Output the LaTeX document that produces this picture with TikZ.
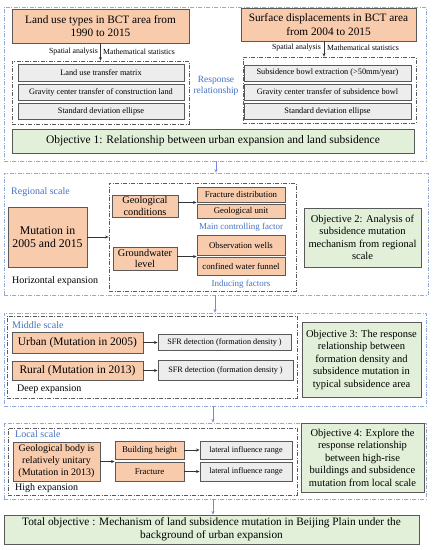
\documentclass[tikz,border=0pt]{standalone}
\usepackage{fontspec}
\setmainfont{Liberation Serif}
\usetikzlibrary{arrows.meta}
\definecolor{salmon}{HTML}{F8CBAD}
\definecolor{grayfill}{HTML}{EDEDED}
\definecolor{greenfill}{HTML}{E2F0D9}
\definecolor{frameblue}{HTML}{8FAADC}
\definecolor{textblue}{HTML}{4472C4}
\definecolor{edge}{HTML}{595959}
\newcommand\fs[2]{\fontsize{#1}{#2}\selectfont}
\newcommand\bx[7]{%
  \pgfmathsetmacro\myw{#5-#3}\pgfmathsetmacro\myh{#6-#4}%
  \node[#1, minimum width=\myw pt, minimum height=\myh pt] (#2) at ({(#3+#5)/2},{(#4+#6)/2}) {#7};}
\tikzset{
  base/.style={rectangle, inner sep=0pt, align=center},
  salmonbox/.style={base, draw=edge, line width=0.9pt, fill=salmon},
  graybox/.style={base, draw=edge, line width=0.9pt, fill=grayfill},
  greenbox/.style={base, draw=edge, line width=0.9pt, fill=greenfill},
  outerframe/.style={base, draw=frameblue, line width=0.8pt, dash pattern=on 4pt off 1.5pt on 1pt off 1.5pt},
  innerframe/.style={base, draw=edge, line width=0.8pt, dash pattern=on 4pt off 1.5pt on 1pt off 1.5pt},
  bluelabel/.style={inner sep=0pt, text=textblue, align=center},
  plainlabel/.style={inner sep=0pt, align=center},
  arr/.style={-{Stealth[length=3.5pt,width=3pt]}, line width=0.7pt, draw=black!80},
  bluearr/.style={-{Stealth[length=3.5pt,width=3pt]}, line width=0.8pt, draw=frameblue!80!blue},
}
\begin{document}
\begin{tikzpicture}[x=1pt,y=-1pt]
\useasboundingbox (0,0) rectangle (434,550);
% ---------- frames ----------
\bx{outerframe}{out1}{4}{7}{426}{161}{}
\bx{outerframe}{out2}{4}{173}{428}{295}{}
\bx{outerframe}{out3}{4}{313}{426}{406}{}
\bx{outerframe}{out4}{4}{423}{426}{499}{}
\bx{innerframe}{in1l}{12}{61}{189}{124}{}
\bx{innerframe}{in1r}{243}{57}{416}{123}{}
\bx{innerframe}{in2}{109}{183}{296}{291}{}
\bx{innerframe}{in3}{7}{316}{297}{398}{}
\bx{innerframe}{in4}{8}{428}{297}{495}{}
% ---------- section 1 ----------
\bx{salmonbox, font=\fs{11.3}{13.5}}{l1}{12}{9}{189}{43}{Land use types in BCT area from\\1990 to 2015}
\bx{salmonbox, font=\fs{11.3}{13.5}}{r1}{241}{8}{416}{41}{Surface displacements in BCT area\\from 2004 to 2015}
\node[plainlabel, anchor=east, font=\fs{7.8}{9}] (sal) at (98,52) {Spatial analysis};
\node[plainlabel, anchor=west, font=\fs{7.8}{9}] (msl) at (103,52) {Mathematical statistics};
\node[plainlabel, anchor=east, font=\fs{7.8}{9}] (sar) at (321,48) {Spatial analysis};
\node[plainlabel, anchor=west, font=\fs{7.8}{9}] (msr) at (327,48) {Mathematical statistics};
\draw[arr] (l1.south) -- (in1l.north);
\draw[arr] (324,41) coordinate (r1s) -- (in1r.north -| r1s);
\bx{graybox, font=\fs{8.3}{10}}{g1}{18}{64}{184}{81}{Land use transfer matrix}
\bx{graybox, font=\fs{8.3}{10}}{g2}{18}{84}{184}{100}{Gravity center transfer of construction land}
\bx{graybox, font=\fs{8.3}{10}}{g3}{18}{103}{184}{119}{Standard deviation ellipse}
\bx{graybox, font=\fs{8.3}{10}}{g4}{244}{65}{411}{81}{Subsidence bowl extraction (>50mm/year)}
\bx{graybox, font=\fs{8.3}{10}}{g5}{244}{84}{411}{100}{Gravity center transfer of subsidence bowl}
\bx{graybox, font=\fs{8.3}{10}}{g6}{244}{103}{411}{119}{Standard deviation ellipse}
\node[bluelabel, font=\fs{9.5}{11}] (resp) at (216,86) {Response\\relationship};
\bx{greenbox, font=\fs{11.5}{13}}{ob1}{12}{129}{414}{153}{Objective 1: Relationship between urban expansion and land subsidence}
\draw[bluearr] (out1.south) ++(1,0) coordinate (a1) -- (a1 |- out2.north);
% ---------- section 2 ----------
\node[bluelabel, anchor=west, font=\fs{10}{11}] (reg) at (11,192) {Regional scale};
\bx{salmonbox, font=\fs{11.8}{13.5}}{mut}{8}{207}{87}{267}{Mutation in\\2005 and 2015}
\node[plainlabel, anchor=west, font=\fs{10}{11}] (hor) at (12,281) {Horizontal expansion};
\draw[arr] (mut.east) -- (mut.east -| in2.west);
\bx{salmonbox, font=\fs{10.3}{11.5}}{geo}{112}{195}{178}{217}{Geological\\conditions}
\bx{salmonbox, font=\fs{8.8}{10}}{frac}{197}{187}{285}{202}{Fracture distribution}
\bx{salmonbox, font=\fs{8.8}{10}}{gunit}{197}{204}{285}{218}{Geological unit}
\node[bluelabel, font=\fs{9}{10}] (mcf) at (241,227) {Main controlling factor};
\bx{salmonbox, font=\fs{10.3}{11.5}}{gw}{113}{247}{177}{270}{Groundwater\\level}
\bx{salmonbox, font=\fs{8.8}{10}}{obs}{197}{235}{285}{255}{Observation wells}
\bx{salmonbox, font=\fs{8.8}{10}}{cwf}{197}{257}{285}{275}{confined water funnel}
\node[bluelabel, font=\fs{9}{10}] (ind) at (241,284) {Inducing factors};
\draw[arr] (geo.east |- frac.south) -- (frac.south west);
\draw[arr] (gw.east |- cwf.north) -- (cwf.north west);
\bx{greenbox, font=\fs{10.5}{12.5}}{ob2}{304}{208}{421}{267}{Objective 2: Analysis of\\subsidence mutation\\mechanism from regional\\scale}
\draw[bluearr] (215,295) coordinate (a2) -- (a2 |- out3.north);
% ---------- section 3 ----------
\node[bluelabel, anchor=west, font=\fs{10}{11}] (mid) at (12,325) {Middle scale};
\bx{salmonbox, font=\fs{11.5}{13}}{urb}{12}{332}{143}{353}{Urban (Mutation in 2005)}
\bx{salmonbox, font=\fs{11.5}{13}}{rur}{12}{361}{143}{380}{Rural (Mutation in 2013)}
\bx{graybox, font=\fs{8.2}{9}}{sfr1}{158}{334}{291}{350}{SFR detection (formation density )}
\bx{graybox, font=\fs{8.2}{9}}{sfr2}{158}{360}{293}{380}{SFR detection (formation density )}
\draw[arr] (urb.east) -- (urb.east -| sfr1.west);
\draw[arr] (rur.east) -- (rur.east -| sfr2.west);
\node[plainlabel, anchor=west, font=\fs{10}{11}] (deep) at (17,389) {Deep expansion};
\bx{greenbox, font=\fs{10.5}{12.5}}{ob3}{302}{322}{421}{397}{Objective 3: The response\\relationship between\\formation density and\\subsidence mutation in\\typical subsidence area}
\draw[bluearr] (213,406) coordinate (a3) -- (a3 |- out4.north);
% ---------- section 4 ----------
\node[bluelabel, anchor=west, font=\fs{10}{11}] (loc) at (15,434) {Local scale};
\bx{salmonbox, font=\fs{10}{12}}{gb}{13}{442}{100}{481}{Geological body is\\relatively unitary\\(Mutation in 2013)}
\bx{salmonbox, font=\fs{8.8}{10}}{bh}{115}{441}{184}{459}{Building height}
\bx{salmonbox, font=\fs{8.8}{10}}{fr}{115}{462}{184}{481}{Fracture}
\bx{graybox, font=\fs{8.2}{9}}{lat1}{200}{441}{292}{459}{lateral influence range}
\bx{graybox, font=\fs{8.2}{9}}{lat2}{200}{462}{292}{481}{lateral influence range}
\draw[arr] (gb.east) -- (gb.east -| bh.west);
\draw[arr] (bh.east) -- (bh.east -| lat1.west);
\draw[arr] (fr.east) -- (fr.east -| lat2.west);
\node[plainlabel, anchor=west, font=\fs{10}{11}] (high) at (15,488) {High expansion};
\bx{greenbox, font=\fs{10.5}{12.5}}{ob4}{301}{423}{424}{492}{Objective 4: Explore the\\response relationship\\between high-rise\\buildings and subsidence\\mutation from local scale}
\bx{greenbox, font=\fs{11.3}{13}}{tot}{4}{515}{419}{544}{Total objective : Mechanism of land subsidence mutation in Beijing Plain under the\\background of urban expansion}
\draw[bluearr] (213,499) coordinate (a4) -- (a4 |- tot.north);
\end{tikzpicture}
\end{document}
